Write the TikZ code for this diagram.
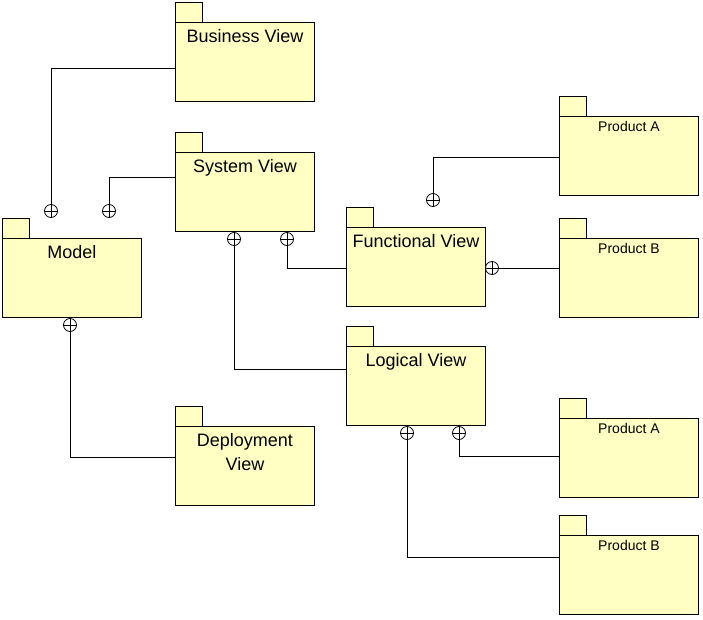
\documentclass[tikz,border=0pt]{standalone}
\usepackage{fontspec}
\setmainfont{Liberation Sans}
\usepackage{tikz}
\usetikzlibrary{positioning}
\definecolor{pkgyellow}{RGB}{255,255,196}

\begin{document}
\begin{tikzpicture}[x=1pt, y=-1pt, line width=0.9pt,
                   package/.style={rectangle, draw=black, fill=pkgyellow, anchor=north west, inner sep=0pt,
                                   minimum width=139pt, minimum height=79pt, align=center,
                                   font=\fontsize{18}{24}\selectfont, text height=20pt, text depth=59pt},
                   small package/.style={package, font=\fontsize{14}{17}\selectfont, text height=15.5pt, text depth=63.5pt},
                   nest/.style={circle, draw=black, fill=white, minimum size=13pt, inner sep=0pt, line width=0.8pt,
                                path picture={\draw[line width=0.8pt] (path picture bounding box.north) -- (path picture bounding box.south)
                                              (path picture bounding box.west) -- (path picture bounding box.east);}}]
\useasboundingbox (0,0) rectangle (703,619);
% packages
\node[package] (business) at (175,22) {Business View};
\node[package] (system) at (175,152) {System View};
\node[package] (model) at (2,238) {Model};
\node[package, text height=44pt, text depth=35pt] (deploy) at (175,426) {Deployment\\View};
\node[package] (functional) at (346,227) {Functional View};
\node[package] (logical) at (346,346) {Logical View};
\node[small package] (prodA1) at (559,116) {Product A};
\node[small package] (prodB1) at (559,238) {Product B};
\node[small package] (prodA2) at (559,418) {Product A};
\node[small package] (prodB2) at (559,535) {Product B};
\foreach \p in {business, system, model, deploy, functional, logical, prodA1, prodB1, prodA2, prodB2}
	\draw[fill=pkgyellow] (\p.north west) rectangle ++(27,-20);
% containment ends
\node[nest] (n1) at (51,211) {};
\node[nest] (n2) at (109,211) {};
\node[nest] (n3) at (234,239) {};
\node[nest] (n4) at (287,239) {};
\node[nest] (n5) at (70,325) {};
\node[nest] (n6) at (433,200) {};
\node[nest] (n7) at (492,268) {};
\node[nest] (n8) at (407,433) {};
\node[nest] (n9) at (459,433) {};
% connectors
\draw ([yshift=-46pt]business.north west) -| (n1.north);
\draw ([yshift=-25pt]system.north west) -| (n2.north);
\draw ([yshift=-23pt]logical.north west) -| (n3.south);
\draw ([yshift=-41pt]functional.north west) -| (n4.south);
\draw ([yshift=-31pt]deploy.north west) -| (n5.south);
\draw ([yshift=-41pt]prodA1.north west) -| (n6.north);
\draw (n7.east) -- (n7 -| prodB1.west);
\draw ([yshift=-22pt]prodB2.north west) -| (n8.south);
\draw ([yshift=-38pt]prodA2.north west) -| (n9.south);
\end{tikzpicture}
\end{document}
